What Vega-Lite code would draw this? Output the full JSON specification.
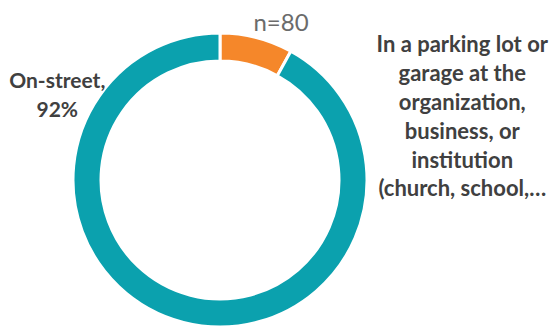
{
  "$schema": "https://vega.github.io/schema/vega-lite/v6.json",
  "width": 440,
  "height": 280,
  "autosize": "none",
  "padding": {"left": 0, "top": 40, "right": 111, "bottom": 8},
  "background": "white",
  "title": {
    "text": "n=80",
    "anchor": "middle",
    "dx": 61,
    "offset": -28,
    "baseline": "alphabetic",
    "fontSize": 24,
    "font": "Lato",
    "fontWeight": "normal",
    "color": "#6b6b6b"
  },
  "data": {
    "values": [
      {"category": "In a parking lot or garage at the organization, business, or institution (church, school,…", "value": 8, "label": "In a parking lot or\ngarage at the\norganization,\nbusiness, or\ninstitution\n(church, school,…"},
      {"category": "On-street", "value": 92, "label": "On-street,\n92%"}
    ]
  },
  "encoding": {
    "theta": {"field": "value", "type": "quantitative", "stack": true},
    "color": {
      "field": "category",
      "type": "nominal",
      "scale": {
        "domain": ["In a parking lot or garage at the organization, business, or institution (church, school,…", "On-street"],
        "range": ["#F5872A", "#0BA1AE"]
      },
      "legend": null
    }
  },
  "layer": [
    {
      "mark": {"type": "arc", "innerRadius": 119, "outerRadius": 147, "stroke": "white", "strokeWidth": 3}
    },
    {
      "transform": [{"filter": "datum.category !== 'On-street'"}],
      "mark": {"type": "text", "radius": 182, "dx": 197, "dy": 31.6, "font": "Lato", "fontWeight": "bold", "fontSize": 22, "lineHeight": 28.8, "lineBreak": "\n", "align": "center", "baseline": "top"},
      "encoding": {
        "text": {"field": "label"},
        "color": {"value": "#404040"}
      }
    },
    {
      "transform": [{"filter": "datum.category === 'On-street'"}],
      "mark": {"type": "text", "radius": 182, "dx": -208, "dy": -285.6, "font": "Lato", "fontWeight": "bold", "fontSize": 21, "lineHeight": 29, "lineBreak": "\n", "align": "center", "baseline": "top"},
      "encoding": {
        "text": {"field": "label"},
        "color": {"value": "#404040"}
      }
    }
  ]
}
